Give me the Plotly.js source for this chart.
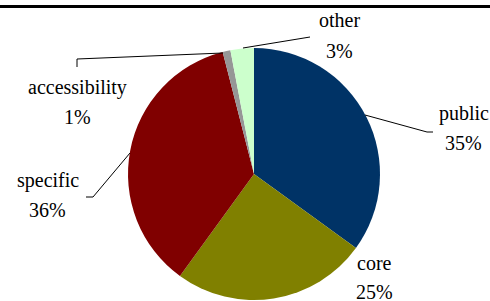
<!DOCTYPE html>
<html>
<head>
<meta charset="utf-8">
<script src="https://cdn.plot.ly/plotly-3.0.1.min.js"></script>
<style>
html,body{margin:0;padding:0;background:#fff;overflow:hidden;}
#wrap{position:relative;width:490px;height:301px;}
#warm{position:absolute;left:180px;top:150px;z-index:0;font-family:'Liberation Serif';font-size:20px;color:#fff;}
#chart{position:absolute;left:0;top:0;z-index:1;width:490px;height:301px;}
#chart svg text{font-family:'Liberation Serif','Times New Roman',serif !important;}
</style>
</head>
<body>
<div id="wrap">
<div id="warm">public core 0123456789%</div>
<div id="chart"></div>
</div>
<script>
const labels = ["public", "core", "specific", "accessibility", "other"];
const values = [35, 25, 36, 1, 3];
const colors = ["#003366", "#808000", "#800000", "#969696", "#CCFFCC"];

const W = 490, H = 301;
const px = x => x / W;
const py = y => 1 - y / H;

const total = values.reduce((a, b) => a + b, 0);
const pct = values.map(v => Math.round(v / total * 100) + "%");

// label placement (pixel centres: name x, name y, percent x, percent y)
const labelPos = {
  "public": [464, 113, 463, 143],
  "core": [374.5, 263, 374, 292],
  "specific": [47.5, 180, 47.5, 210],
  "accessibility": [77.5, 87, 77.5, 117],
  "other": [339.5, 20, 339.5, 51]
};

const SERIF = "Liberation Serif";
const mkFont = () => ({family: SERIF, size: 20, color: "#000000"});
const annotations = [];
labels.forEach((l, i) => {
  const p = labelPos[l];
  annotations.push({xref: "paper", yref: "paper", x: px(p[0]), y: py(p[1]), text: l,
    showarrow: false, xanchor: "center", yanchor: "middle", font: mkFont()});
  annotations.push({xref: "paper", yref: "paper", x: px(p[2]), y: py(p[3]), text: pct[i],
    showarrow: false, xanchor: "center", yanchor: "middle", font: mkFont()});
});

function pathOf(pts) {
  return pts.map((p, i) => (i ? "L" : "M") + px(p[0]) + "," + py(p[1])).join(" ");
}
const leaders = [
  [[243, 48], [310, 37]],
  [[223, 53], [77, 59], [77, 67]],
  [[130, 153], [93, 197], [86, 197]],
  [[365, 115], [427, 132], [433, 132]]
];
const shapes = leaders.map(pts => ({type: "path", xref: "paper", yref: "paper",
  path: pathOf(pts), line: {color: "#000", width: 1}}));
shapes.push({type: "line", xref: "paper", yref: "paper", x0: 0, x1: 1, y0: py(6.5), y1: py(6.5),
  line: {color: "#000", width: 3}});

const cx = 254, cy = 174, r = 126;
const trace = {
  type: "pie",
  labels: labels,
  values: values,
  sort: false,
  direction: "clockwise",
  rotation: 0,
  textinfo: "none",
  hoverinfo: "none",
  marker: {colors: colors, line: {width: 0}},
  domain: {x: [px(cx - r), px(cx + r)], y: [py(cy + r), py(cy - r)]}
};

const gd = document.getElementById("chart");
function applySerif() {
  gd.querySelectorAll("text").forEach(t => {
    t.setAttribute("font-family", SERIF);
    if (t.style.getPropertyPriority("font-family") !== "important") {
      t.style.setProperty("font-family", "'Liberation Serif', serif", "important");
    }
  });
}

Plotly.newPlot(gd, [trace], {
  width: W, height: H,
  margin: {l: 0, r: 0, t: 0, b: 0},
  paper_bgcolor: "#fff",
  showlegend: false,
  font: {family: SERIF, size: 20, color: "#000000"},
  annotations: annotations,
  shapes: shapes
}, {staticPlot: true, displayModeBar: false}).then(() => {
  applySerif();
  gd.on("plotly_afterplot", applySerif);
});
</script>
</body>
</html>
